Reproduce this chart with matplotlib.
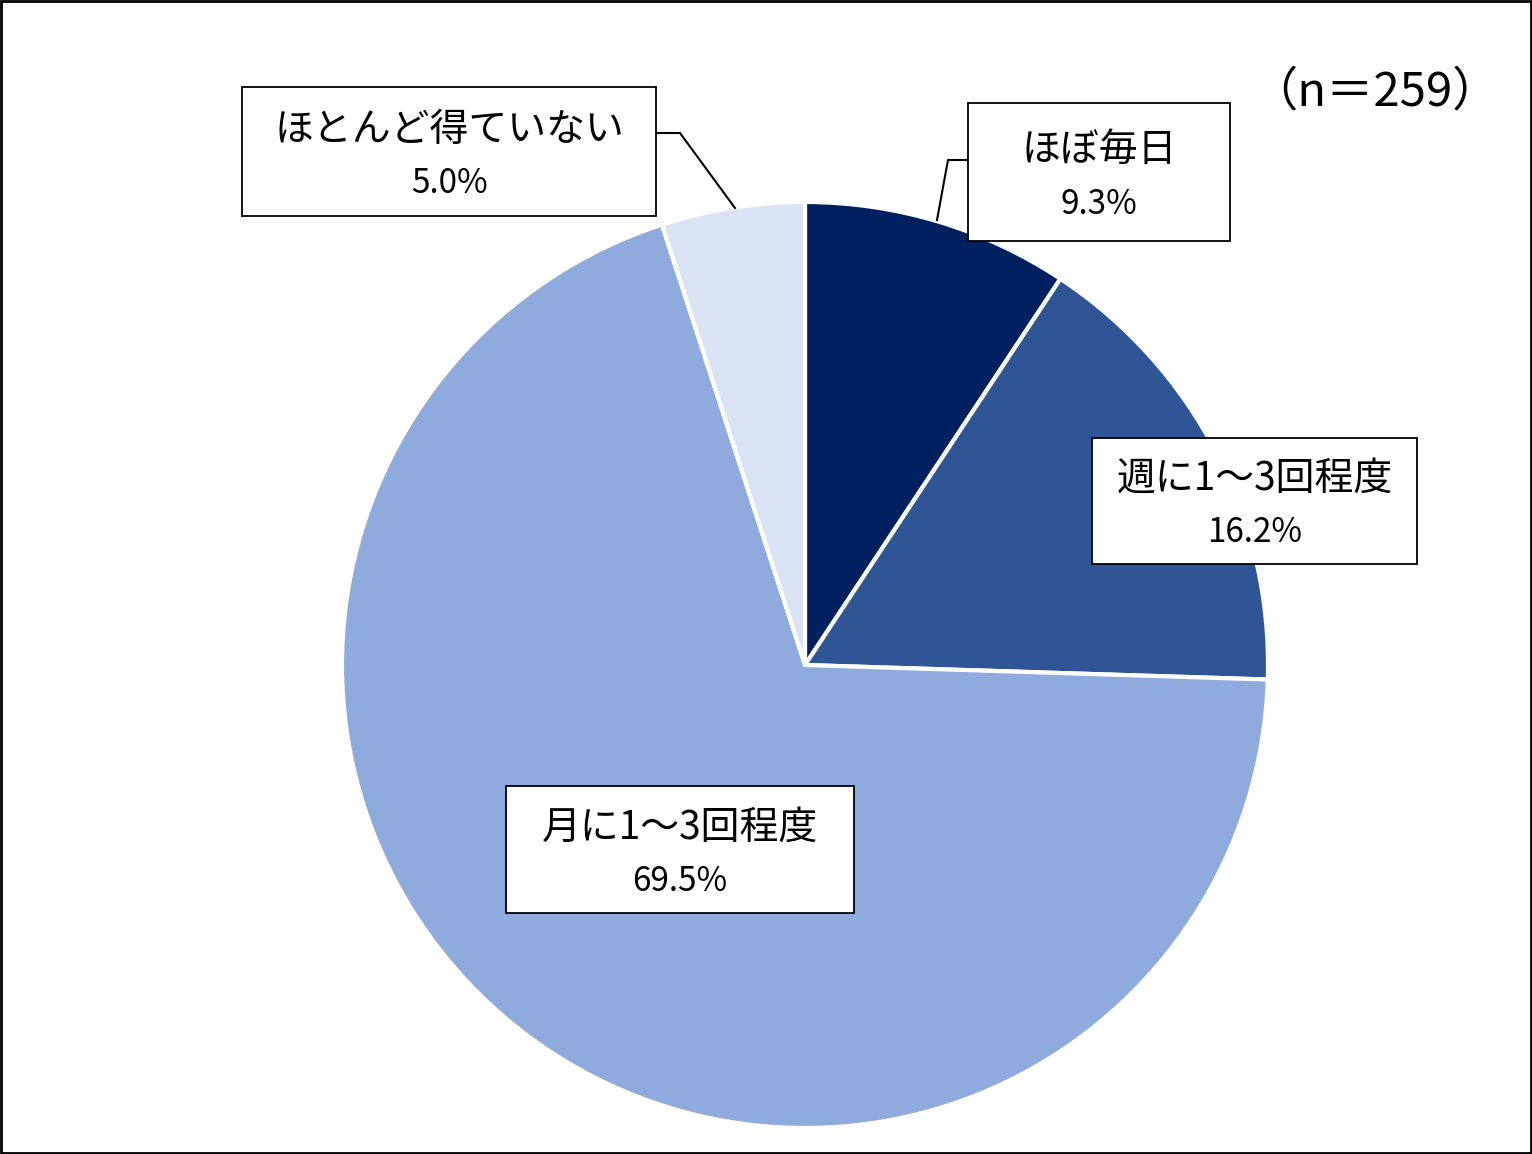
import matplotlib
matplotlib.use("Agg")
import matplotlib.pyplot as plt
from matplotlib.patches import Rectangle

plt.rcParams['font.family'] = ['Noto Sans CJK JP', 'DejaVu Sans']

categories = ["ほぼ毎日", "週に1～3回程度", "月に1～3回程度", "ほとんど得ていない"]
values = [9.3, 16.2, 69.5, 5.0]
colors = ["#002060", "#2F5597", "#8FAADC", "#DAE3F3"]
n_label = "（n＝259）"

W, H = 1532, 1154
fig = plt.figure(figsize=(W/100, H/100), dpi=100)
ax = fig.add_axes([0, 0, 1, 1])

def Y(y):
    return H - y

cx, cy, r = 805, 665, 463
ax.pie(values, colors=colors, startangle=90, counterclock=False,
       center=(cx, Y(cy)), radius=r, frame=True,
       wedgeprops=dict(edgecolor='white', linewidth=3))
ax.set_xlim(0, W)
ax.set_ylim(0, H)
ax.set_aspect('equal')
ax.axis('off')

# label boxes: (x0, y0, x1, y1) in pixels
boxes = [
    (968, 103, 1230, 241),
    (1092, 438, 1417, 564),
    (506, 786, 854, 913),
    (242, 87, 656, 216),
]
for cat, v, (x0, y0, x1, y1) in zip(categories, values, boxes):
    ax.add_patch(Rectangle((x0, Y(y1)), x1 - x0, y1 - y0, facecolor='white',
                           edgecolor='black', linewidth=1.3, zorder=5))
    xc = (x0 + x1) / 2
    ym = (y0 + y1) / 2
    ax.text(xc, Y(ym - 22), cat, ha='center', va='center', fontsize=28, zorder=6)
    ax.text(xc, Y(ym + 32), f"{v:.1f}%", ha='center', va='center', fontsize=24, zorder=6)

# leader lines
ax.plot([937, 948, 968], [Y(220), Y(160), Y(160)], color='black', lw=1.5, zorder=4)
ax.plot([656, 680, 735], [Y(133), Y(133), Y(208)], color='black', lw=1.5, zorder=4)

ax.text(1375, Y(92), n_label, ha='center', va='center', fontsize=34)

# outer border
ax.add_patch(Rectangle((1, 1), W - 2, H - 2, facecolor='none', edgecolor='black',
                       linewidth=2, zorder=10))

fig.savefig("out.png", dpi=100)
